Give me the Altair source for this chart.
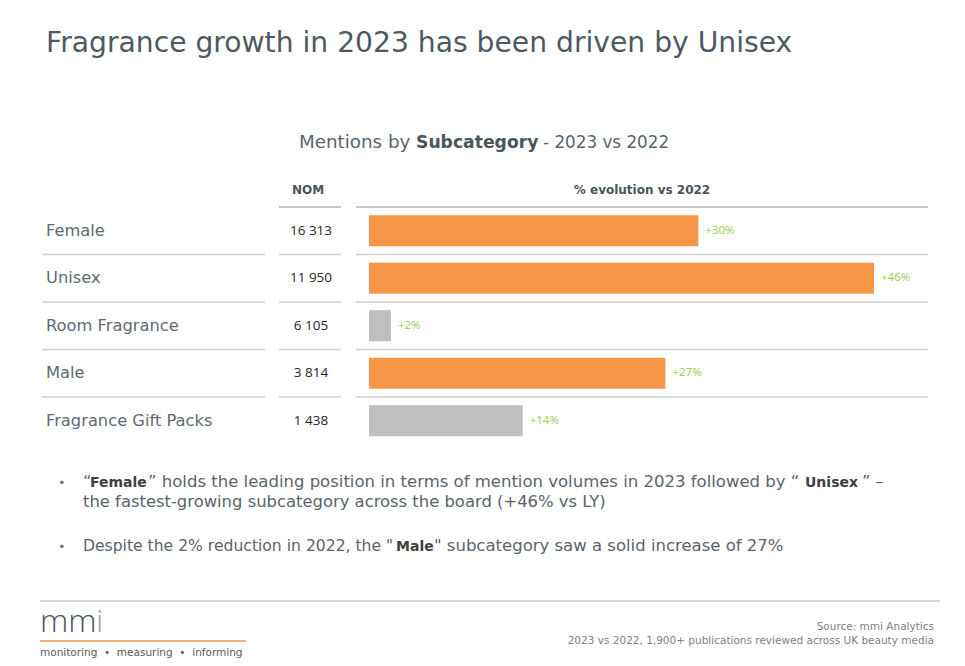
import altair as alt
import pandas as pd

# ---- data ----
categories = ["Female", "Unisex", "Room Fragrance", "Male", "Fragrance Gift Packs"]
nom_values = [16313, 11950, 6105, 3814, 1438]
growth_pct = [30, 46, 2, 27, 14]
highlight = ["yes", "yes", "no", "yes", "no"]

FONT = "DejaVu Sans"
TXT = "#5a646d"

df = pd.DataFrame({
    "cat": categories,
    "nom": nom_values,
    "growth": growth_pct,
    "hl": highlight,
})
df["nom_label"] = df["nom"].map(lambda v: f"{v:,}".replace(",", " "))
df["growth_label"] = df["growth"].map(lambda v: f"+{v}%")

yscale = alt.Scale(domain=categories, range=[199, 436.5], paddingInner=0, paddingOuter=0)
xscale = alt.Scale(domain=[0, 46], range=[361, 866])


def Y(band=None):
    if band is None:
        return alt.Y("cat:N", sort=categories, scale=yscale, axis=None)
    return alt.Y("cat:N", sort=categories, scale=yscale, axis=None, bandPosition=band)


base = alt.Chart(df)

bars = base.mark_bar(height=alt.RelativeBandSize(0.655)).encode(
    x=alt.X("growth:Q", scale=xscale, axis=None),
    x2=alt.datum(0),
    y=Y(),
    color=alt.Color("hl:N", scale=alt.Scale(domain=["yes", "no"], range=["#F79646", "#BFBFBF"]), legend=None),
)

val_labels = base.mark_text(align="left", baseline="middle", dx=7, font="Open Sans", fontSize=11.5, color="#92D050").encode(
    x=alt.X("growth:Q", scale=xscale, axis=None),
    y=Y(),
    text="growth_label:N",
)

row_labels = base.mark_text(align="left", baseline="middle", font=FONT, fontSize=16.3, color="#5f6a73").encode(
    x=alt.value(38), y=Y(), text="cat:N"
)

nom_labels = base.mark_text(align="center", baseline="middle", font="Open Sans", fontSize=13.5, color="#262626").encode(
    x=alt.value(303), y=Y(), text="nom_label:N"
)

not_first = alt.datum.cat != categories[0]
is_first = alt.datum.cat == categories[0]

sep_label = base.transform_filter(not_first).mark_rule(color="#d0d0d0", strokeWidth=1.3).encode(
    x=alt.value(34), x2=alt.value(257), y=Y(0)
)
sep_nom = base.transform_filter(not_first).mark_rule(color="#d0d0d0", strokeWidth=1.3).encode(
    x=alt.value(271), x2=alt.value(333), y=Y(0)
)
sep_bar = base.transform_filter(not_first).mark_rule(color="#d0d0d0", strokeWidth=1.3).encode(
    x=alt.value(348), x2=alt.value(920), y=Y(0)
)
head_nom = base.transform_filter(is_first).mark_rule(color="#c8c8c8", strokeWidth=2.2).encode(
    x=alt.value(271), x2=alt.value(333), y=Y(0)
)
head_bar = base.transform_filter(is_first).mark_rule(color="#c8c8c8", strokeWidth=2.2).encode(
    x=alt.value(348), x2=alt.value(920), y=Y(0)
)


def label(text, x, y, size, color=TXT, weight="normal", align="left", baseline="alphabetic", font=FONT):
    return alt.Chart(pd.DataFrame({"t": [text]})).mark_text(
        align=align, baseline=baseline, font=font, fontSize=size, fontWeight=weight, color=color
    ).encode(x=alt.value(x), y=alt.value(y), text="t:N")


def hline(x1, x2, y, color, w):
    return alt.Chart(pd.DataFrame({"a": [0]})).mark_rule(color=color, strokeWidth=w).encode(
        x=alt.value(x1), x2=alt.value(x2), y=alt.value(y)
    )


BOLD = "#404040"
texts = [
    label("Fragrance growth in 2023 has been driven by Unisex", 38, 44, 28.2, color="#4f5962"),
    label("Mentions by", 291, 140, 18.3),
    label("Subcategory", 408, 140, 17.2, weight="bold", color="#4a545d"),
    label("- 2023 vs 2022", 535, 140, 16.8),
    label("NOM", 300, 186, 12, weight="bold", color="#4a545d", align="center"),
    label("% evolution vs 2022", 634, 186, 12, weight="bold", color="#4a545d", align="center"),
    # bullets
    label("•", 50, 479, 13, color="#7f7f7f"),
    label("\u201c", 75, 479, 16.3),
    label("Female", 82, 479, 14, weight="bold", color=BOLD),
    label("\u201d holds the leading position in terms of mention volumes in 2023 followed by \u201c", 140, 479, 16.5),
    label("Unisex", 797, 479, 14, weight="bold", color=BOLD),
    label("\u201d \u2013", 854, 479, 16.3),
    label("the fastest-growing subcategory across the board (+46% vs LY)", 75, 499, 16.4),
    label("•", 50, 543, 13, color="#7f7f7f"),
    label("Despite the 2% reduction in 2022, the \"", 75, 543, 15.6),
    label("Male", 388, 543, 14, weight="bold", color=BOLD),
    label("\" subcategory saw a solid increase of 27%", 426, 543, 16.5),
    # footer
    hline(32, 932, 593, "#a9b0b6", 1),
    label("mm", 32, 624, 32, color="#4d555c", font="Open Sans", weight=300),
    label("i", 88, 624, 32, color="#9aa4ac", font="Open Sans", weight=300),
    hline(32, 238, 633, "#F79646", 1.5),
    label("monitoring\u00a0\u00a0•\u00a0\u00a0measuring\u00a0\u00a0•\u00a0\u00a0informing", 32, 648, 10.5, color="#555d64"),
    label("Source: mmi Analytics", 926, 622, 10.5, color="#7f7f7f", align="right"),
    label("2023 vs 2022, 1,900+ publications reviewed across UK beauty media", 926, 636, 10.5, color="#7f7f7f", align="right"),
]

chart = alt.layer(
    sep_label, sep_nom, sep_bar, head_nom, head_bar,
    bars, val_labels, row_labels, nom_labels, *texts
).properties(
    width=949, height=650, padding=0,
    autosize=alt.AutoSizeParams(type="none"),
    background="white",
).configure_view(stroke=None)

chart.save("out.html", embed_options={"renderer": "svg", "actions": False})
